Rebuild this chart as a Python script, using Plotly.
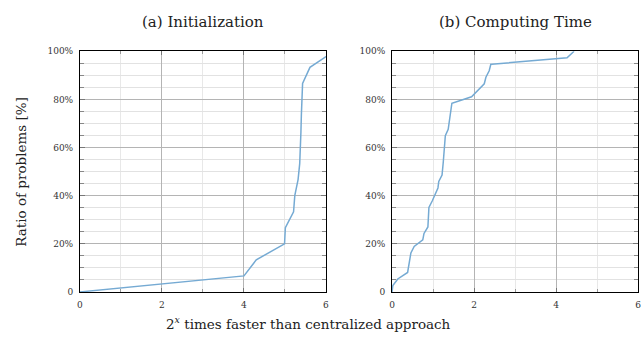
import plotly.graph_objects as go

init_x = [0, 4.0, 4.3, 4.99, 5.01, 5.21, 5.24, 5.32, 5.36, 5.38, 5.39, 5.40, 5.41, 5.43, 5.61, 6.2]
init_y = [0, 6.67, 13.33, 20, 26.67, 33.33, 40, 46.67, 53.33, 60, 66.67, 73.33, 80, 86.67, 93.33, 100]

comp_x = [0, 0.02, 0.14, 0.38, 0.46, 0.54, 0.75, 0.78, 0.875, 0.9, 0.98, 1.12, 1.14, 1.22, 1.25,
          1.27, 1.3, 1.37, 1.46, 1.94, 2.1, 2.25, 2.29, 2.37, 2.41, 2.43, 4.27, 4.44]
comp_y = [0, 2.7, 5.4, 8.1, 16.2, 18.9, 21.6, 24.3, 27, 35.1, 37.8, 43.2, 45.9, 48.6, 54,
          59.5, 64.9, 67.6, 78.4, 81.1, 83.8, 86.5, 89.2, 91.9, 94.6, 94.6, 97.3, 100]

x_ticks = [0, 2, 4, 6]
y_ticks = [0, 20, 40, 60, 80, 100]
y_labels = ["0", "20%", "40%", "60%", "80%", "100%"]
titles = ["(a) Initialization", "(b) Computing Time"]

FONT = "DejaVu Serif, Liberation Serif, serif"
LINE = "#75aad3"

fig = go.Figure()
fig.add_trace(go.Scatter(x=init_x, y=init_y, mode="lines", line=dict(color=LINE, width=1.5),
                         xaxis="x", yaxis="y", showlegend=False))
fig.add_trace(go.Scatter(x=comp_x, y=comp_y, mode="lines", line=dict(color=LINE, width=1.5),
                         xaxis="x2", yaxis="y2", showlegend=False))

ydom = [1 - 295.7 / 337, 1 - 47.7 / 337]
xdoms = [[77.7 / 642, 326 / 642], [392.7 / 642, 641 / 642]]

def xax(dom, anchor):
    return dict(domain=dom, anchor=anchor, range=[0, 6], tickvals=x_ticks,
                ticks="inside", ticklen=4, tickcolor="#777", mirror="allticks",
                showline=True, linecolor="black", linewidth=1, ticklabelstandoff=4,
                showgrid=True, gridcolor="#b4b4b4", gridwidth=1, zeroline=False,
                minor=dict(dtick=1, showgrid=True, gridcolor="#e8e8e8", ticks="inside",
                           ticklen=3, tickcolor="#999"),
                tickfont=dict(family=FONT, size=9, color="#333"))

def yax(anchor):
    return dict(domain=ydom, anchor=anchor, range=[0, 100], tickvals=y_ticks, ticktext=y_labels,
                ticks="inside", ticklen=5, tickcolor="#777", mirror="allticks",
                showline=True, linecolor="black", linewidth=1, ticklabelstandoff=4,
                showgrid=True, gridcolor="#b4b4b4", gridwidth=1, zeroline=False,
                minor=dict(dtick=5, showgrid=True, gridcolor="#e2e2e2", ticks="inside",
                           ticklen=4, tickcolor="#888"),
                tickfont=dict(family=FONT, size=9, color="#333"))

def ann(text, x, y, size, angle=0):
    return dict(text=text, x=x / 642, y=1 - y / 337, xref="paper", yref="paper",
                xanchor="center", yanchor="middle", textangle=angle, showarrow=False,
                font=dict(family=FONT, size=size, color="#222"))

fig.update_layout(
    width=642, height=337, margin=dict(l=0, r=0, t=0, b=0),
    paper_bgcolor="white", plot_bgcolor="white",
    xaxis=xax(xdoms[0], "y"), yaxis=yax("x"),
    xaxis2=xax(xdoms[1], "y2"), yaxis2=yax("x2"),
    annotations=[
        ann(titles[0], 202, 18, 15),
        ann(titles[1], 517, 18, 15),
        ann("Ratio of problems [%]", 18, 172, 13.5, -90),
        ann("2<sup><i>x</i></sup> times faster than centralized approach", 308, 328, 13.5),
    ],
)

fig.write_html("out.html")
